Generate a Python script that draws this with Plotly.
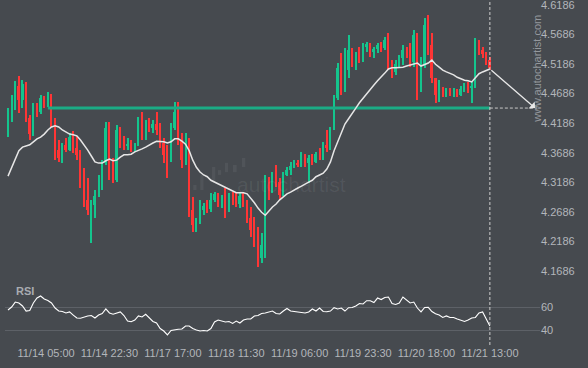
import plotly.graph_objects as go

# hourly candles, index 0..133 (last candle = 11/21 13:00)
opens = [4.404,4.437,4.458,4.481,4.458,4.485,4.427,4.400,4.448,4.437,4.461,4.451,4.466,4.424,4.373,4.360,4.382,4.373,4.395,4.377,
         4.365,4.314,4.289,4.272,4.280,4.295,4.326,4.351,4.410,4.331,4.322,4.407,4.387,4.380,4.383,4.375,4.382,4.424,4.399,4.419,
         4.410,4.417,4.407,4.385,4.365,4.356,4.410,4.437,4.390,4.356,4.390,4.272,4.247,4.252,4.272,4.279,4.274,4.289,4.299,4.284,
         4.292,4.272,4.295,4.289,4.282,4.295,4.285,4.258,4.238,4.218,4.191,4.213,4.322,4.302,4.326,4.319,4.297,4.331,4.339,4.346,
         4.350,4.348,4.363,4.351,4.360,4.353,4.366,4.360,4.382,4.377,4.410,4.461,4.512,4.478,4.508,4.542,4.525,4.534,4.529,4.547,
         4.552,4.539,4.544,4.551,4.545,4.559,4.518,4.505,4.518,4.529,4.542,4.535,4.522,4.567,4.475,4.517,4.584,4.551,4.495,4.466,
         4.475,4.469,4.475,4.468,4.471,4.466,4.476,4.483,4.478,4.481,4.556,4.542,4.535,4.525]
highs = [4.444,4.466,4.490,4.498,4.491,4.488,4.432,4.453,4.453,4.466,4.464,4.471,4.468,4.427,4.390,4.385,4.393,4.402,4.405,4.397,
         4.373,4.343,4.326,4.289,4.306,4.331,4.356,4.420,4.420,4.360,4.415,4.412,4.397,4.393,4.390,4.385,4.429,4.437,4.424,4.427,
         4.424,4.437,4.419,4.393,4.382,4.419,4.454,4.454,4.402,4.402,4.393,4.294,4.258,4.289,4.284,4.289,4.301,4.302,4.301,4.297,
         4.309,4.301,4.302,4.301,4.302,4.301,4.289,4.277,4.260,4.243,4.233,4.331,4.328,4.336,4.348,4.326,4.336,4.344,4.353,4.356,
         4.356,4.370,4.366,4.365,4.366,4.370,4.377,4.387,4.407,4.412,4.466,4.520,4.537,4.545,4.567,4.545,4.539,4.547,4.554,4.556,
         4.554,4.547,4.554,4.556,4.564,4.571,4.525,4.525,4.534,4.551,4.547,4.554,4.576,4.571,4.530,4.596,4.601,4.571,4.495,4.491,
         4.480,4.478,4.478,4.478,4.476,4.481,4.486,4.488,4.488,4.562,4.559,4.547,4.539,4.530]
lows = [4.395,4.420,4.441,4.436,4.444,4.420,4.390,4.397,4.429,4.434,4.444,4.446,4.412,4.356,4.353,4.351,4.370,4.372,4.368,4.356,
        4.309,4.277,4.263,4.216,4.258,4.294,4.306,4.348,4.322,4.317,4.319,4.377,4.373,4.373,4.370,4.370,4.380,4.390,4.390,4.404,
        4.402,4.399,4.377,4.351,4.326,4.353,4.407,4.382,4.343,4.348,4.260,4.235,4.235,4.248,4.263,4.267,4.268,4.285,4.277,4.275,
        4.258,4.268,4.280,4.277,4.275,4.277,4.250,4.226,4.209,4.176,4.182,4.191,4.289,4.301,4.311,4.289,4.295,4.329,4.331,4.343,
        4.344,4.344,4.344,4.317,4.348,4.351,4.356,4.356,4.370,4.373,4.407,4.458,4.466,4.471,4.495,4.513,4.508,4.520,4.522,4.539,
        4.530,4.529,4.537,4.539,4.542,4.508,4.495,4.500,4.513,4.517,4.529,4.513,4.513,4.458,4.471,4.512,4.534,4.486,4.453,4.454,
        4.463,4.463,4.464,4.463,4.463,4.464,4.471,4.469,4.453,4.478,4.534,4.529,4.517,4.508]
closes = [4.437,4.458,4.481,4.458,4.485,4.427,4.400,4.448,4.437,4.461,4.451,4.466,4.424,4.373,4.360,4.382,4.373,4.395,4.377,4.365,
          4.314,4.289,4.272,4.280,4.295,4.326,4.351,4.410,4.331,4.322,4.407,4.387,4.380,4.383,4.375,4.382,4.424,4.399,4.419,4.410,
          4.417,4.407,4.385,4.365,4.356,4.410,4.437,4.390,4.356,4.390,4.272,4.247,4.252,4.272,4.279,4.274,4.289,4.299,4.284,4.292,
          4.272,4.295,4.289,4.282,4.295,4.285,4.258,4.238,4.218,4.191,4.213,4.322,4.302,4.326,4.319,4.297,4.331,4.339,4.346,4.350,
          4.348,4.363,4.351,4.360,4.353,4.366,4.360,4.382,4.377,4.410,4.461,4.512,4.478,4.508,4.542,4.525,4.534,4.529,4.547,4.552,
          4.539,4.544,4.551,4.545,4.559,4.518,4.505,4.518,4.529,4.542,4.535,4.522,4.567,4.475,4.517,4.584,4.551,4.495,4.466,4.475,
          4.469,4.475,4.468,4.471,4.466,4.476,4.483,4.478,4.481,4.556,4.542,4.535,4.525,4.512]
ma = [4.329,4.344,4.356,4.372,4.378,4.380,4.382,4.387,4.392,4.395,4.400,4.407,4.412,4.414,4.412,4.407,4.404,4.400,4.399,4.397,
      4.390,4.382,4.373,4.363,4.353,4.351,4.351,4.355,4.358,4.355,4.356,4.361,4.365,4.365,4.366,4.370,4.372,4.375,4.378,4.382,
      4.385,4.388,4.388,4.387,4.385,4.387,4.392,4.392,4.388,4.383,4.372,4.356,4.344,4.336,4.331,4.328,4.322,4.319,4.316,4.312,
      4.309,4.306,4.304,4.301,4.301,4.301,4.299,4.292,4.284,4.275,4.268,4.263,4.270,4.277,4.282,4.289,4.294,4.299,4.302,4.306,
      4.309,4.312,4.316,4.319,4.322,4.328,4.331,4.334,4.341,4.353,4.372,4.388,4.404,4.417,4.426,4.434,4.444,4.453,4.461,4.468,
      4.475,4.483,4.490,4.496,4.503,4.510,4.512,4.512,4.512,4.513,4.515,4.517,4.518,4.520,4.515,4.517,4.520,4.525,4.518,4.513,
      4.508,4.505,4.503,4.500,4.496,4.493,4.491,4.490,4.488,4.495,4.502,4.505,4.508,4.510]
rsi = [57.4,60.0,64.3,63.5,60.9,56.5,57.0,63.5,67.8,69.6,67.0,65.7,63.5,59.1,56.5,56.1,54.8,55.7,53.0,50.4,
       50.2,51.3,52.2,52.6,50.4,53.0,54.3,58.3,54.8,53.7,54.8,55.7,52.6,47.8,47.2,48.7,52.2,51.3,53.7,50.9,
       47.4,46.1,41.3,39.1,35.7,39.6,40.4,40.6,40.9,43.5,43.5,41.3,40.0,39.1,39.6,39.1,41.3,47.0,48.7,47.8,
       47.0,47.4,45.7,47.8,46.1,48.7,49.6,49.6,52.2,52.6,54.3,54.8,55.9,56.5,54.3,53.9,56.5,58.7,56.5,56.1,
       56.1,55.2,54.8,55.7,58.3,56.5,59.1,56.1,55.9,56.5,59.4,58.3,59.1,56.5,59.4,59.6,60.9,63.0,62.6,65.5,
       65.5,63.9,67.8,66.5,68.3,68.7,63.0,62.2,63.5,68.7,65.7,63.5,64.3,59.1,55.7,59.6,59.7,56.1,54.2,53.0,
       50.9,52.2,50.9,50.9,49.6,48.3,47.4,48.7,50.4,50.9,54.8,55.7,49.6,43.5]

level = 4.444           # support/resistance level
level_start = 11        # candle index where the level begins
forecast_end = 145.5    # index where the forecast arrow ends
tick_pos = [10.5, 28, 45.5, 63, 80.5, 98, 115.5, 133]
tick_text = ["11/14 05:00", "11/14 22:30", "11/17 17:00", "11/18 11:30",
             "11/19 06:00", "11/19 23:30", "11/20 18:00", "11/21 13:00"]
price_ticks = [4.1686, 4.2186, 4.2686, 4.3186, 4.3686, 4.4186, 4.4686, 4.5186, 4.5686, 4.6186]
rsi_ticks = [40, 60]

idx = list(range(len(closes)))
last = idx[-1]

BG = "#464a4f"
TXT = "#b3b6bb"
GREEN = "#14c58d"
RED = "#ff3535"

colors = [GREEN if c >= o else RED for o, c in zip(opens, closes)]
body_base = [min(o, c) for o, c in zip(opens, closes)]
body_h = [abs(c - o) for o, c in zip(opens, closes)]
wick_h = [h - l for h, l in zip(highs, lows)]

fig = go.Figure()
fig.add_trace(go.Bar(x=idx, y=wick_h, base=lows, width=0.28, marker=dict(color=colors, line=dict(width=0)),
                     hoverinfo="skip", showlegend=False))
fig.add_trace(go.Bar(x=idx, y=body_h, base=body_base, width=0.55, marker=dict(color=colors, line=dict(width=0)),
                     hoverinfo="skip", showlegend=False))
fig.add_trace(go.Scatter(x=[level_start, last], y=[level, level], mode="lines",
                         line=dict(color="#1bab85", width=3), hoverinfo="skip", showlegend=False))
fig.add_trace(go.Scatter(x=[last, forecast_end + 0.5], y=[level, level], mode="lines",
                         line=dict(color="#c8c8c8", width=1, dash="3px,2px"), hoverinfo="skip", showlegend=False))
fig.add_trace(go.Scatter(x=idx, y=ma, mode="lines", line=dict(color="#e6e6e6", width=1.5),
                         hoverinfo="skip", showlegend=False))
fig.add_trace(go.Scatter(x=idx, y=rsi, mode="lines", line=dict(color="#ffffff", width=1.1),
                         yaxis="y2", hoverinfo="skip", showlegend=False))

# forecast arrow
fig.add_annotation(x=forecast_end, y=level, ax=last, ay=ma[-1], xref="x", yref="y",
                   axref="x", ayref="y", showarrow=True, arrowhead=1, arrowsize=1.2,
                   arrowwidth=1.3, arrowcolor="#e8e8e8", text="")
# current time dashed line
fig.add_shape(type="line", x0=last, x1=last, y0=0, y1=1, xref="x", yref="paper",
              line=dict(color="#cfcfcf", width=1, dash="3px,2px"))

# faint watermark logo bars (decoration, paper coordinates)
logo = [(0.352, 0.358, 0.449, 0.464), (0.365, 0.371, 0.449, 0.493), (0.387, 0.393, 0.472, 0.516),
        (0.398, 0.404, 0.493, 0.507), (0.411, 0.417, 0.501, 0.528), (0.426, 0.433, 0.501, 0.522),
        (0.443, 0.449, 0.516, 0.542)]
for x0, x1, y0, y1 in logo:
    fig.add_shape(type="rect", xref="paper", yref="paper", x0=x0, x1=x1, y0=y0, y1=y1,
                  line=dict(width=0), fillcolor="rgba(255,255,255,0.06)", layer="below")

fig.add_annotation(text="RSI", xref="paper", yref="paper", x=0.017, y=0.157, xanchor="left",
                   yanchor="middle", showarrow=False,
                   font=dict(family="Liberation Sans, Arial", size=11, color="#a9acb1", weight="bold"))
fig.add_annotation(text="www.autochartist.com", xref="paper", yref="paper", x=0.994, y=0.80,
                   textangle=-90, showarrow=False, xanchor="center", yanchor="middle",
                   font=dict(family="Liberation Sans, Arial", size=11, color="rgba(175,178,183,0.75)"))
fig.add_annotation(text="autochartist", xref="paper", yref="paper", x=0.535, y=0.465,
                   showarrow=False, xanchor="center", yanchor="middle",
                   font=dict(family="Liberation Sans, Arial", size=21, color="rgba(255,255,255,0.07)"))

fig.update_layout(
    width=588, height=368, margin=dict(l=5, r=48, t=0, b=23),
    paper_bgcolor=BG, plot_bgcolor=BG, barmode="overlay", bargap=0,
    font=dict(family="Liberation Sans, Arial", size=11, color=TXT),
    xaxis=dict(range=[-0.83, 146.84], showgrid=False, zeroline=False, showline=False,
               tickmode="array", tickvals=tick_pos, ticktext=tick_text, ticks="",
               tickfont=dict(size=11, color=TXT)),
    yaxis=dict(range=[4.0438, 4.6265], side="right", showgrid=False, zeroline=False,
               tickmode="array", tickvals=price_ticks, ticktext=[f"{v:.4f}" for v in price_ticks],
               ticks="", tickfont=dict(size=11, color=TXT), ticklabeloverflow="allow"),
    yaxis2=dict(range=[26.96, 326.96], side="right", overlaying="y", showgrid=True,
                gridcolor="#5d6167", gridwidth=1, zeroline=False, tickmode="array",
                tickvals=rsi_ticks, ticks="", tickfont=dict(size=11, color=TXT)),
    showlegend=False,
)
fig.write_html("out.html", config={"displayModeBar": False},
               post_script="document.body.style.margin='0';document.body.style.background='" + BG + "';")
